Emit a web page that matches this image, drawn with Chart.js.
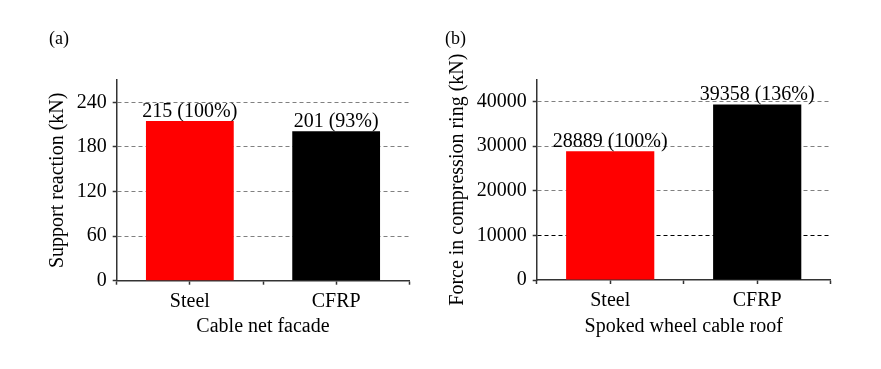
<!DOCTYPE html>
<html>
<head>
<meta charset="utf-8">
<script src="https://cdn.jsdelivr.net/npm/chart.js@4.4.0/dist/chart.umd.min.js"></script>
<style>
body { margin: 0; background: #fff; width: 881px; height: 369px; overflow: hidden; position: relative; font-family: 'Liberation Serif', 'Times New Roman', serif; }
canvas { position: absolute; top: 0; }
.tag { position: absolute; top: 28px; font-size: 18px; color: #000; }
</style>
</head>
<body>
<canvas id="chartA" width="440" height="369" style="left:0"></canvas>
<canvas id="chartB" width="441" height="369" style="left:440px"></canvas>
<div class="tag" style="left:49px">(a)</div>
<div class="tag" style="left:445px">(b)</div>
<script>
var categories = ['Steel', 'CFRP'];
var barColors = ['#ff0000', '#000000'];

var facadeValues = [215, 201];
var facadePercent = ['100%', '93%'];
var facadeTicks = [0, 60, 120, 180, 240];

var roofValues = [28889, 39358];
var roofPercent = ['100%', '136%'];
var roofTicks = [0, 10000, 20000, 30000, 40000];

var FONT = "'Liberation Serif', 'Times New Roman', serif";

// text "value (percent)" sitting on top of each bar
var barLabels = {
    id: 'barLabels',
    afterDatasetsDraw: function(chart) {
        var ctx = chart.ctx;
        var ds = chart.data.datasets[0];
        var meta = chart.getDatasetMeta(0);
        ctx.save();
        ctx.font = '20px ' + FONT;
        ctx.fillStyle = '#000';
        ctx.textAlign = 'center';
        ctx.textBaseline = 'alphabetic';
        meta.data.forEach(function(bar, i) {
            ctx.fillText(ds.data[i].y + ' (' + ds.percents[i] + ')', bar.x, bar.y - 4);
        });
        ctx.restore();
    }
};

function buildChart(id, values, percents, yMax, yStep, majorTicks, darkLine, yTitle, xTitle, area, yTitleX) {
    var canvas = document.getElementById(id);
    var W = canvas.width, H = canvas.height;
    var points = values.map(function(v, i) { return {x: i + 1, y: v}; });

    return new Chart(canvas.getContext('2d'), {
        type: 'bar',
        data: {
            datasets: [{
                data: points,
                percents: percents,
                backgroundColor: barColors,
                borderWidth: 0,
                // x ticks sit every half category, so 1.2 of that = 0.6 of a category
                barPercentage: 1.2,
                categoryPercentage: 1
            }]
        },
        plugins: [barLabels],
        options: {
            responsive: false,
            animation: false,
            layout: { padding: { top: area.top, right: W - area.right, left: 0, bottom: 0 } },
            plugins: { legend: { display: false }, tooltip: { enabled: false } },
            scales: {
                x: {
                    type: 'linear',
                    min: 0.5,
                    max: categories.length + 0.5,
                    offset: false,
                    afterFit: function(scale) { scale.height = H - area.bottom; },
                    grid: { drawOnChartArea: false, offset: false, tickLength: 4, tickColor: '#333', tickWidth: 1.5 },
                    border: { color: '#333', width: 1.5 },
                    ticks: {
                        stepSize: 0.5,
                        autoSkip: false,
                        maxRotation: 0,
                        padding: 5,
                        color: '#000',
                        font: { family: FONT, size: 20 },
                        callback: function(v) {
                            var i = v - 1;
                            return Number.isInteger(i) && categories[i] ? categories[i] : '';
                        }
                    },
                    title: {
                        display: true,
                        text: xTitle,
                        color: '#000',
                        font: { family: FONT, size: 20 },
                        padding: { top: 0, bottom: 30 }
                    }
                },
                y: {
                    min: 0,
                    max: yMax,
                    afterFit: function(scale) { scale.width = area.left; },
                    grid: {
                        tickLength: 4,
                        tickColor: '#333',
                        tickWidth: 1.5,
                        color: function(ctx) {
                            if (!ctx.tick) return '#808080';
                            var v = ctx.tick.value;
                            if (v === 0 || majorTicks.indexOf(v) < 0) return 'rgba(0,0,0,0)';
                            return v === darkLine ? '#000' : '#808080';
                        }
                    },
                    border: { color: '#333', width: 1.5, dash: [4, 3] },
                    ticks: {
                        stepSize: yStep,
                        padding: 6,
                        color: '#000',
                        font: { family: FONT, size: 20 },
                        callback: function(v) { return majorTicks.indexOf(v) >= 0 ? String(v) : ''; }
                    },
                    title: {
                        display: true,
                        text: yTitle,
                        color: '#000',
                        font: { family: FONT, size: 20 },
                        padding: { top: yTitleX - 12, bottom: 0 }
                    }
                }
            }
        }
    });
}

buildChart('chartA', facadeValues, facadePercent, 270, 30, facadeTicks, null,
    'Support reaction (kN)', 'Cable net facade',
    { left: 116.7, right: 409.3, top: 80, bottom: 280.7 }, 58);

buildChart('chartB', roofValues, roofPercent, 45000, 5000, roofTicks, 10000,
    'Force in compression ring (kN)', 'Spoked wheel cable roof',
    { left: 96.7, right: 390.7, top: 79.3, bottom: 280 }, 17.5);
</script>
</body>
</html>
